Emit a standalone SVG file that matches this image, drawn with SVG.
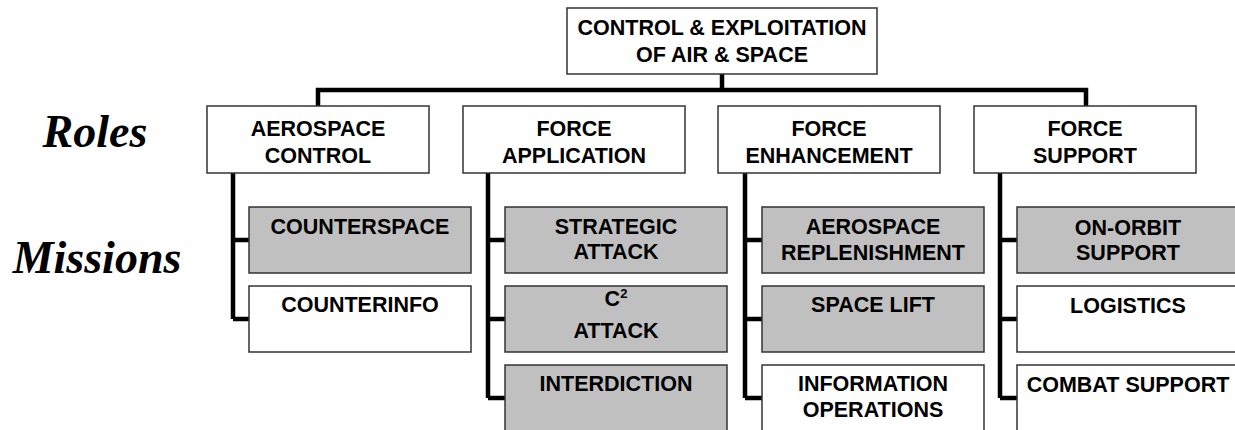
<svg xmlns="http://www.w3.org/2000/svg" width="1235" height="430" viewBox="0 0 1235 430">
<style>
.box{fill:#ffffff;stroke:#333333;stroke-width:1.5}
.gray{fill:#c0c0c0;stroke:#333333;stroke-width:1.5}
.t{font-family:"Liberation Sans",Arial,sans-serif;font-weight:bold;font-size:21.5px;fill:#000;text-anchor:middle}
.lab{font-family:"Liberation Serif","Times New Roman",serif;font-weight:bold;font-style:italic;font-size:46px;fill:#000;text-anchor:middle}
.conn{fill:none;stroke:#000;stroke-width:4.5}
</style>
<rect width="1235" height="430" fill="#ffffff"/>
<text class="lab" x="95" y="147">Roles</text>
<text class="lab" x="97" y="273">Missions</text>
<g id="connectors">
<path class="conn" d="M722,74 V90 M318,106 V90 H1086 V106"/>
<path class="conn" d="M233,173 V319 M233,240 H249 M233,319 H249"/>
<path class="conn" d="M488,173 V398 M488,240 H505 M488,319 H505 M488,398 H505"/>
<path class="conn" d="M745,173 V398 M745,240 H762 M745,319 H762 M745,398 H762"/>
<path class="conn" d="M1000,173 V398 M1000,240 H1017 M1000,319 H1017 M1000,398 H1017"/>
</g>
<g id="top"><rect class="box" x="567" y="8" width="310" height="66"/><text class="t" x="722" y="35">CONTROL &amp; EXPLOITATION</text><text class="t" x="722" y="62">OF AIR &amp; SPACE</text></g>
<g id="role-aerospace-control"><rect class="box" x="207" y="106" width="222" height="67"/><text class="t" x="318" y="136">AEROSPACE</text><text class="t" x="318" y="163">CONTROL</text></g>
<g id="role-force-application"><rect class="box" x="463" y="106" width="222" height="67"/><text class="t" x="574" y="136">FORCE</text><text class="t" x="574" y="163">APPLICATION</text></g>
<g id="role-force-enhancement"><rect class="box" x="718" y="106" width="222" height="67"/><text class="t" x="829" y="136">FORCE</text><text class="t" x="829" y="163">ENHANCEMENT</text></g>
<g id="role-force-support"><rect class="box" x="974" y="106" width="222" height="67"/><text class="t" x="1085" y="136">FORCE</text><text class="t" x="1085" y="163">SUPPORT</text></g>
<g id="m-counterspace"><rect class="gray" x="249" y="207" width="222" height="66"/><text class="t" x="360" y="234">COUNTERSPACE</text></g>
<g id="m-counterinfo"><rect class="box" x="249" y="286" width="222" height="66"/><text class="t" x="360" y="312">COUNTERINFO</text></g>
<g id="m-strategic-attack"><rect class="gray" x="505" y="207" width="222" height="66"/><text class="t" x="616" y="234">STRATEGIC</text><text class="t" x="616" y="259">ATTACK</text></g>
<g id="m-c2-attack"><rect class="gray" x="505" y="286" width="222" height="66"/><text class="t" x="616" y="306">C<tspan font-size="13" dy="-8">2</tspan></text><text class="t" x="616" y="338">ATTACK</text></g>
<g id="m-interdiction"><rect class="gray" x="505" y="365" width="222" height="70"/><text class="t" x="616" y="391">INTERDICTION</text></g>
<g id="m-aerospace-replenishment"><rect class="gray" x="762" y="207" width="222" height="66"/><text class="t" x="873" y="234">AEROSPACE</text><text class="t" x="873" y="260">REPLENISHMENT</text></g>
<g id="m-space-lift"><rect class="gray" x="762" y="286" width="222" height="66"/><text class="t" x="873" y="312">SPACE LIFT</text></g>
<g id="m-information-operations"><rect class="box" x="762" y="365" width="222" height="70"/><text class="t" x="873" y="391">INFORMATION</text><text class="t" x="873" y="417">OPERATIONS</text></g>
<g id="m-on-orbit-support"><rect class="gray" x="1017" y="207" width="222" height="66"/><text class="t" x="1128" y="235">ON-ORBIT</text><text class="t" x="1128" y="260">SUPPORT</text></g>
<g id="m-logistics"><rect class="box" x="1017" y="286" width="222" height="66"/><text class="t" x="1128" y="313">LOGISTICS</text></g>
<g id="m-combat-support"><rect class="box" x="1017" y="365" width="222" height="70"/><text class="t" x="1128" y="392">COMBAT SUPPORT</text></g>
</svg>
